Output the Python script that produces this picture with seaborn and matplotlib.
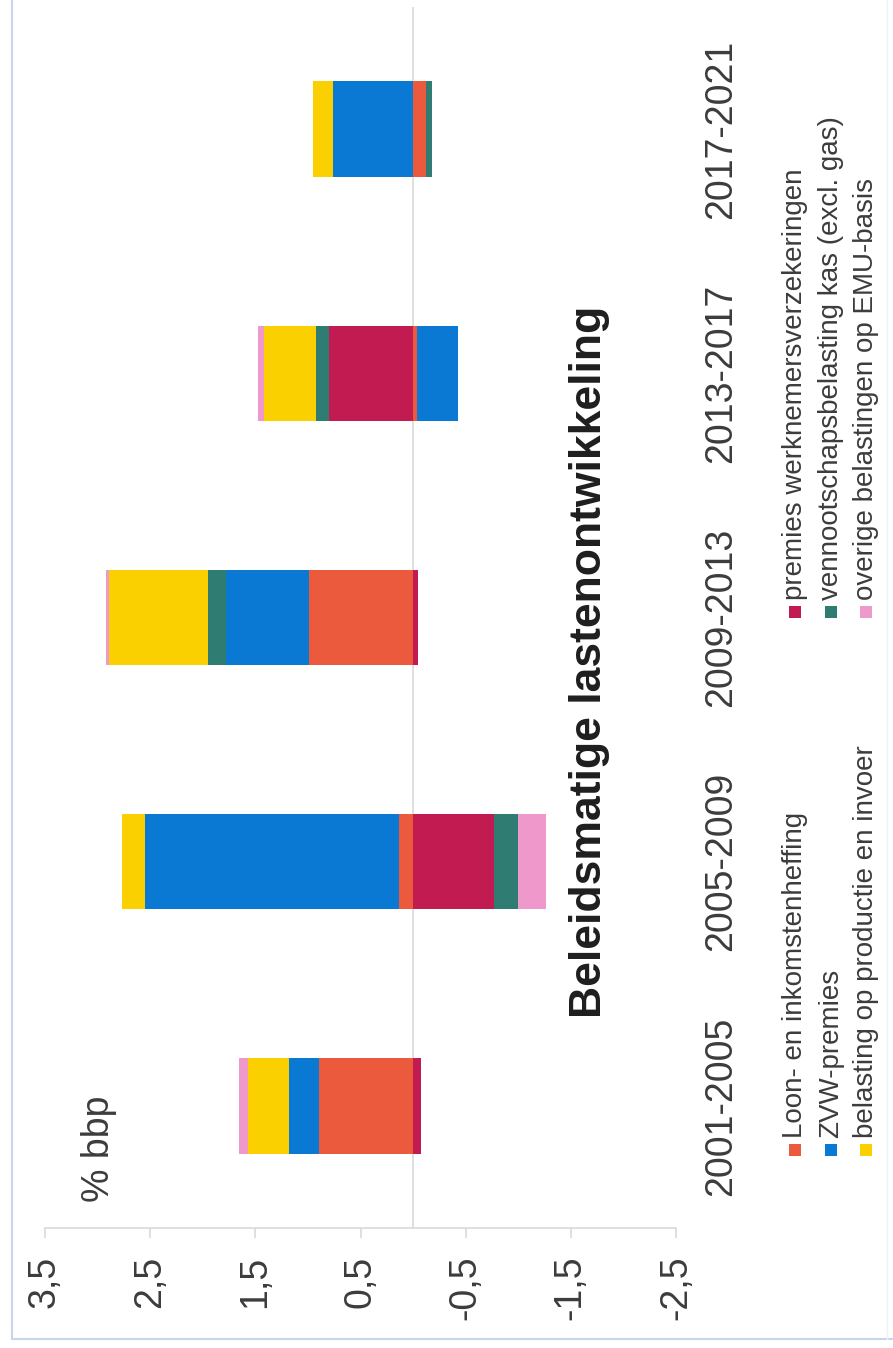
import numpy as np
import pandas as pd
import matplotlib
matplotlib.use("Agg")
import matplotlib.pyplot as plt
import seaborn as sns
from matplotlib.patches import Rectangle
from matplotlib.lines import Line2D

# ---------------- data ----------------
categories = ["2001-2005", "2005-2009", "2009-2013", "2013-2017", "2017-2021"]
series_names = [
    "Loon- en inkomstenheffing",
    "premies werknemersverzekeringen",
    "ZVW-premies",
    "vennootschapsbelasting kas (excl. gas)",
    "belasting op productie en invoer",
    "overige belastingen op EMU-basis",
]
loon = [0.89, 0.13, 0.99, -0.04, -0.12]
premies = [-0.08, -0.77, -0.05, 0.80, 0.0]
zvw = [0.29, 2.42, 0.79, -0.39, 0.76]
vpb = [0.0, -0.23, 0.17, 0.12, -0.06]
productie = [0.39, 0.22, 0.94, 0.50, 0.19]
overige = [0.09, -0.26, 0.03, 0.05, 0.0]
series_values = [loon, premies, zvw, vpb, productie, overige]

value_ticks = [3.5, 2.5, 1.5, 0.5, -0.5, -1.5, -2.5]
value_tick_labels = ["3,5", "2,5", "1,5", "0,5", "-0,5", "-1,5", "-2,5"]
title = "Beleidsmatige lastenontwikkeling"
unit_label = "% bbp"

colors = ["#EC5A3E", "#C11B52", "#0A79D3", "#2F7C72", "#FBD000", "#EF98CB"]

# ---------------- style ----------------
sns.set_theme(style="white")
plt.rcParams["font.family"] = ["Liberation Sans", "DejaVu Sans"]

W, H = 893, 1348
fig = plt.figure(figsize=(W / 100, H / 100), dpi=100)
fig.patch.set_facecolor("white")


def fx(x):
    return x / W


def fy(y):
    return 1 - y / H


# axes in the (rotated) layout: values run left(3.5)->right(-2.5)
ax_left, ax_right, ax_top, ax_bottom = 45, 676, 7, 1228
ax = fig.add_axes([fx(ax_left), fy(ax_bottom), (ax_right - ax_left) / W, (ax_bottom - ax_top) / H])

pos = np.zeros(len(categories))
neg = np.zeros(len(categories))
for name, vals, col in zip(series_names, series_values, colors):
    v = np.array(vals, dtype=float)
    left = np.where(v >= 0, pos, neg)
    df = pd.DataFrame({"periode": categories, "waarde": v})
    sns.barplot(data=df, x="waarde", y="periode", order=categories, orient="y",
                color=col, saturation=1, width=0.39, errorbar=None,
                left=left, linewidth=0, ax=ax, zorder=3)
    pos += np.where(v > 0, v, 0)
    neg += np.where(v < 0, v, 0)

ax.set_xlim(3.5, -2.5)
ax.set_ylim(-0.5, 4.5)
ax.set_xlabel("")
ax.set_ylabel("")
ax.grid(False)

axis_grey = "#D9D9D9"
text_col = "#3C3C3C"
for s in ["top", "left", "right"]:
    ax.spines[s].set_visible(False)
ax.spines["bottom"].set_color(axis_grey)
ax.spines["bottom"].set_linewidth(1.2)
ax.axvline(0, color=axis_grey, lw=1.2, zorder=1)

ax.set_xticks(value_ticks)
ax.set_xticklabels(value_tick_labels, rotation=90, fontsize=27, color=text_col)
ax.tick_params(axis="x", length=7, width=1.2, color=axis_grey, pad=13, direction="out", bottom=True)

ax.yaxis.tick_right()
ax.set_yticks(range(len(categories)))
ax.set_yticklabels(categories, rotation=90, fontsize=27, color=text_col)
ax.tick_params(axis="y", length=0, pad=19.5, right=True, left=False)
for lbl in ax.get_yticklabels():
    lbl.set_va("center")
    lbl.set_ha("left")

# title and unit
fig.text(fx(590), fy(662), title, rotation=90, ha="center", va="center",
         fontsize=32, fontweight="bold", color="#1E1E1E")
fig.text(fx(99), fy(1202), unit_label, rotation=90, ha="center", va="bottom",
         fontsize=27, color=text_col)

# legend (drawn manually, rotated)
legend_layout = [
    (0, 795, 1150), (2, 831, 1150), (4, 866, 1150),
    (1, 795, 612), (3, 831, 612), (5, 866, 612),
]
for idx, xc, ym in legend_layout:
    sz = 12
    fig.add_artist(Rectangle((fx(xc - sz / 2), fy(ym + sz / 2)), sz / W, sz / H,
                             transform=fig.transFigure, facecolor=colors[idx],
                             edgecolor="none"))
    fig.text(fx(xc), fy(ym - 12), series_names[idx], rotation=90, ha="center",
             va="bottom", fontsize=20, color=text_col)

# outer frame
frame_col = "#C9D6EA"
fig.add_artist(Line2D([fx(12), fx(12)], [fy(0), fy(1339)], color=frame_col, lw=1.5,
                      transform=fig.transFigure))
fig.add_artist(Line2D([fx(12), fx(893)], [fy(1339), fy(1339)], color=frame_col, lw=1.5,
                      transform=fig.transFigure))
fig.add_artist(Line2D([fx(887), fx(887)], [fy(0), fy(1339)], color="#EEF1F6", lw=1.0,
                      transform=fig.transFigure))

fig.savefig("out.png", dpi=100, facecolor="white")
